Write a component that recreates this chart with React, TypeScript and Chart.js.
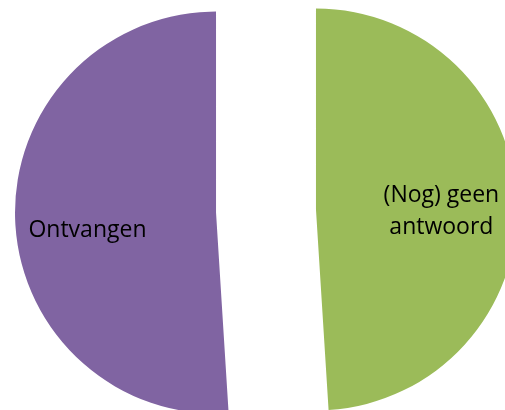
import React, { useEffect, useRef } from "react";
import { Chart, registerables } from "chart.js";

Chart.register(...registerables);

// ---- data ----
const categories: string[] = ["(Nog) geen antwoord", "Ontvangen"];
const labelLines: string[][] = [["(Nog) geen", "antwoord"], ["Ontvangen"]];
const values: number[] = [49, 51];
const colors: string[] = ["#9BBB59", "#8064A2"];

// ---- styling ----
const CANVAS_W = 532;
const CANVAS_H = 422;
const RADIUS = 201;
const EXPLODE = 50;
const FONT_SIZE = 23;
const LINE_HEIGHT = 32.5;
const FONT_FAMILY = "'Open Sans', sans-serif";
const LABEL_FRACTION = [0.624, 0.645];
const LABEL_NUDGE_DEG = [1.9, -5.6];

const explodePlugin = {
  id: "explodeSlices",
  beforeDatasetDraw(chart: any, args: any) {
    const ctx = chart.ctx;
    args.meta.data.forEach((arc: any) => {
      const { startAngle, endAngle } = arc.getProps(["startAngle", "endAngle"], true);
      const mid = (startAngle + endAngle) / 2;
      ctx.save();
      ctx.translate(Math.cos(mid) * EXPLODE, Math.sin(mid) * EXPLODE);
      arc.draw(ctx);
      ctx.restore();
    });
    return false;
  },
  afterDatasetsDraw(chart: any) {
    const ctx = chart.ctx;
    const meta = chart.getDatasetMeta(0);
    ctx.save();
    ctx.font = `${FONT_SIZE}px ${FONT_FAMILY}`;
    ctx.fillStyle = "#000000";
    ctx.textAlign = "center";
    ctx.textBaseline = "alphabetic";
    meta.data.forEach((arc: any, i: number) => {
      const { x, y, startAngle, endAngle, outerRadius } = arc.getProps(
        ["x", "y", "startAngle", "endAngle", "outerRadius"],
        true
      );
      const mid = (startAngle + endAngle) / 2;
      const cx = x + Math.cos(mid) * EXPLODE;
      const cy = y + Math.sin(mid) * EXPLODE;
      const a = mid + (LABEL_NUDGE_DEG[i] * Math.PI) / 180;
      const r = outerRadius * LABEL_FRACTION[i];
      const lx = cx + Math.cos(a) * r;
      const ly = cy + Math.sin(a) * r;
      const lines = labelLines[i];
      const capHalf = FONT_SIZE * 0.357;
      const top = ly - ((lines.length - 1) * LINE_HEIGHT) / 2;
      lines.forEach((line, k) => {
        ctx.fillText(line, lx, top + k * LINE_HEIGHT + capHalf);
      });
    });
    ctx.restore();
  },
};

export default function App() {
  const canvasRef = useRef<HTMLCanvasElement | null>(null);

  useEffect(() => {
    if (!canvasRef.current) return;
    const chart = new Chart(canvasRef.current, {
      type: "pie",
      data: {
        labels: categories,
        datasets: [
          {
            data: values,
            backgroundColor: colors,
            borderWidth: 0,
            radius: RADIUS,
          } as any,
        ],
      },
      options: {
        responsive: false,
        animation: false,
        events: [],
        layout: { padding: 0 },
        plugins: {
          legend: { display: false },
          tooltip: { enabled: false },
        },
      } as any,
      plugins: [explodePlugin as any],
    });
    return () => chart.destroy();
  }, []);

  return (
    <div
      style={{
        position: "fixed",
        left: 0,
        top: 0,
        width: 505,
        height: 410,
        overflow: "hidden",
        background: "#ffffff",
      }}
    >
      <canvas
        ref={canvasRef}
        width={CANVAS_W}
        height={CANVAS_H}
        style={{ display: "block", width: CANVAS_W, height: CANVAS_H }}
      />
    </div>
  );
}
